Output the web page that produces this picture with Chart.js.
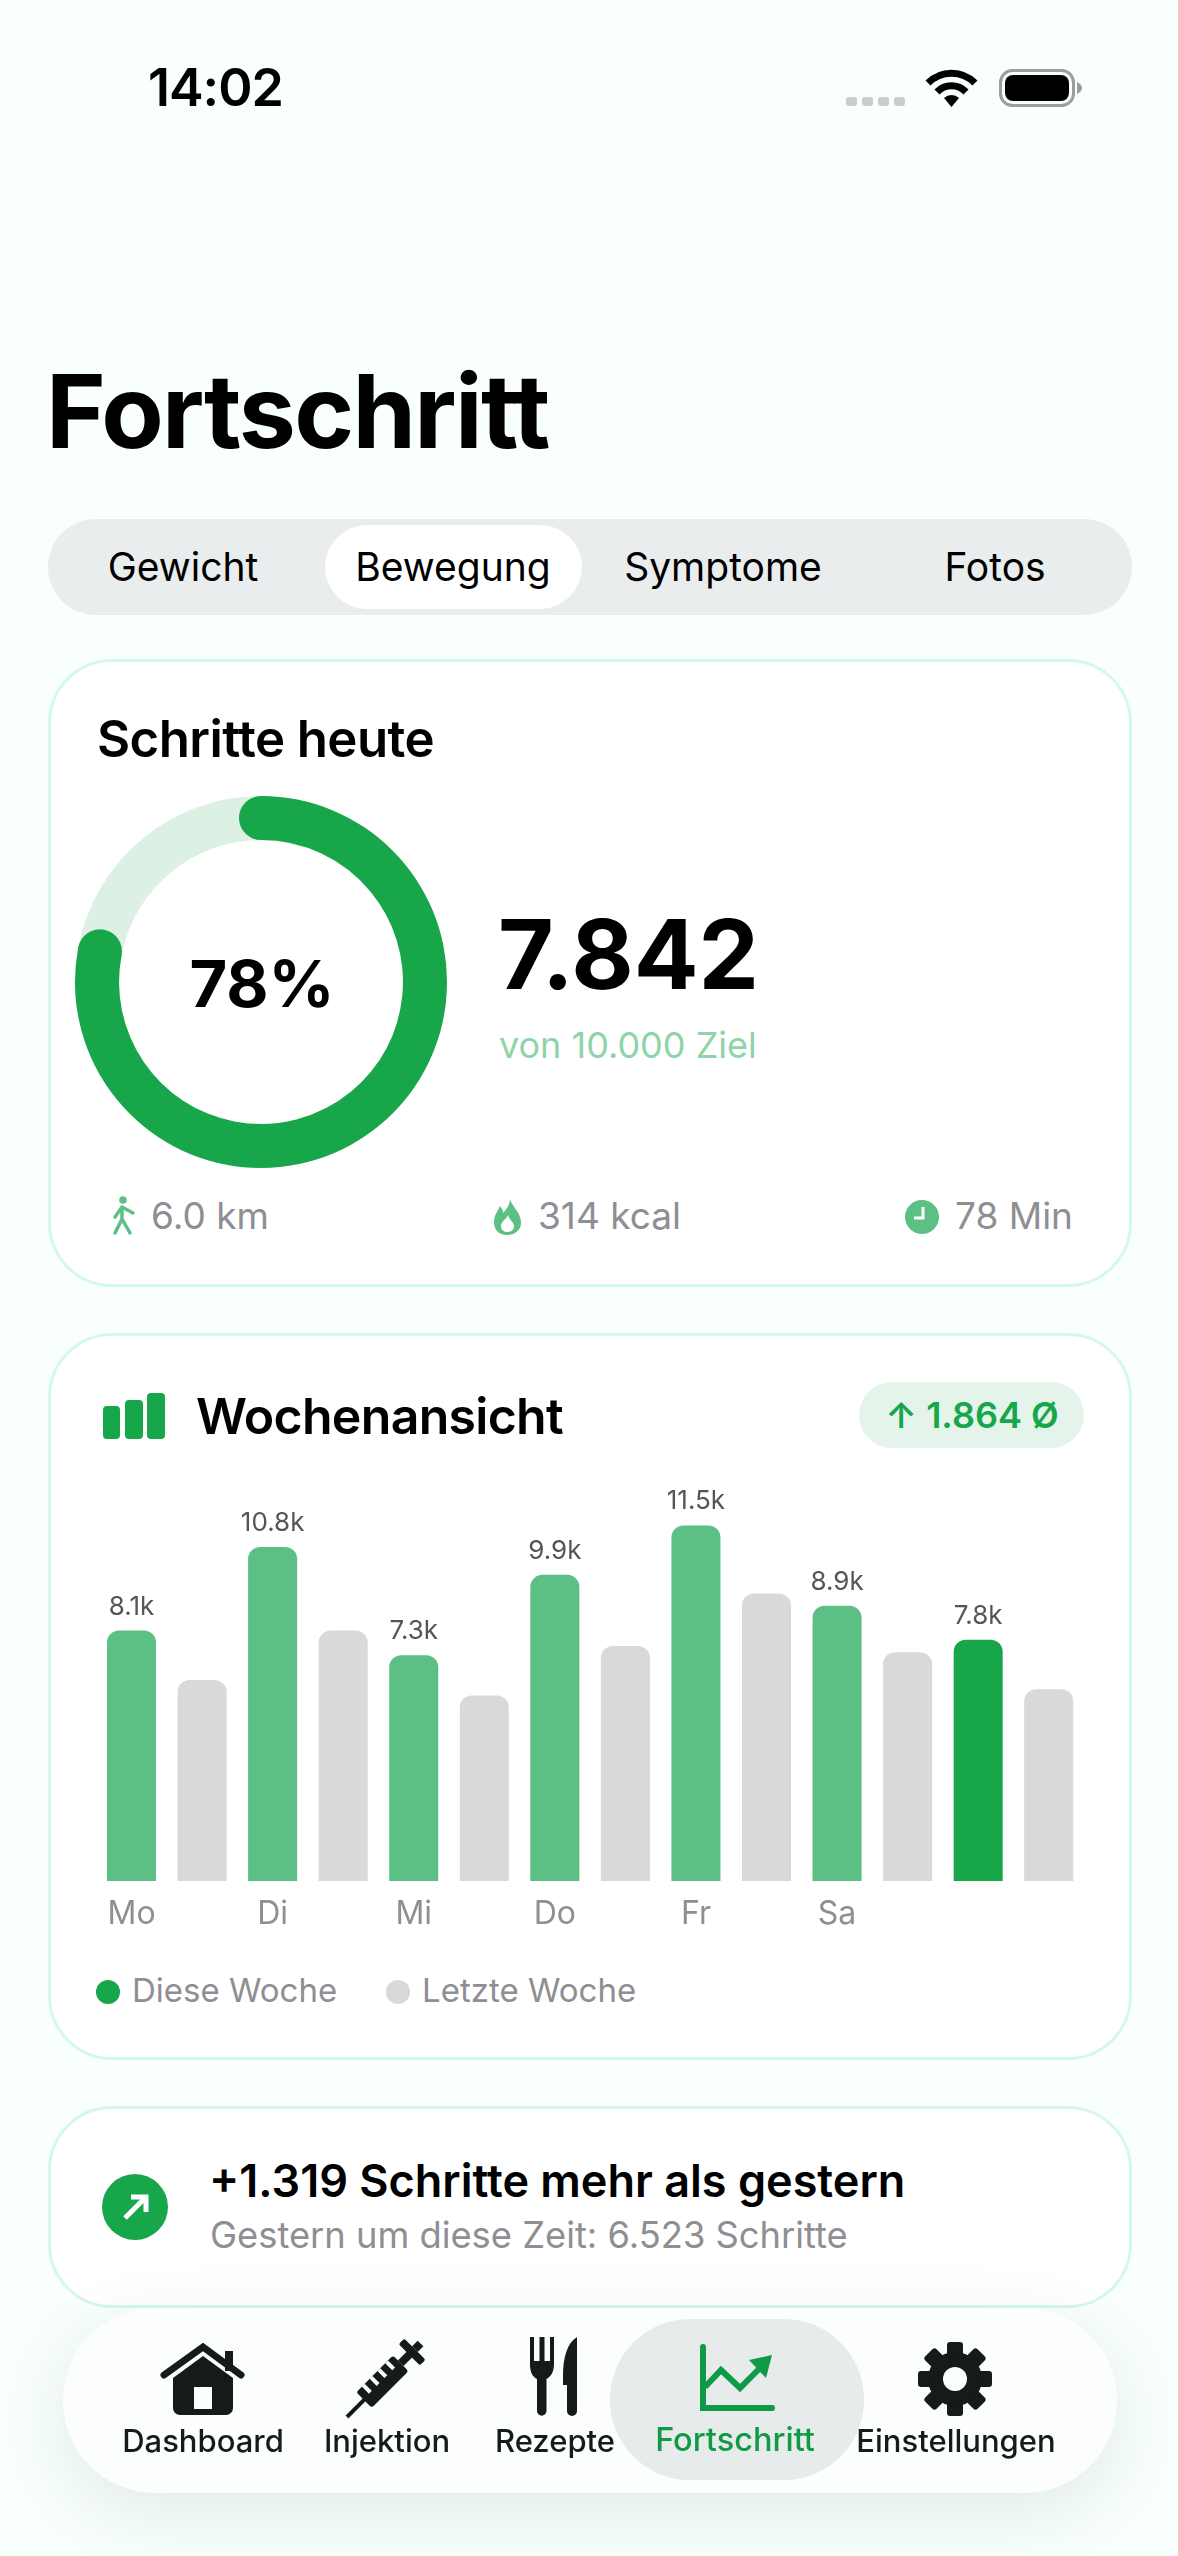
<!DOCTYPE html>
<html lang="de">
<head>
<meta charset="utf-8">
<title>Fortschritt</title>
<script src="https://cdn.jsdelivr.net/npm/chart.js@4/dist/chart.umd.min.js"></script>
<style>
html, body { margin: 0; padding: 0; }
body { position: relative; width: 1178px; height: 2556px; overflow: hidden; background: #f8fffd; font-family: Inter, sans-serif; color: #000; }
.t { position: absolute; white-space: nowrap; line-height: 1; }
.c { transform: translateX(-50%); }
.box { position: absolute; box-sizing: border-box; }
.card { left: 48px; width: 1084px; background: #fff; border: 3.5px solid #d5f9e7; border-radius: 64px; }
.grey { color: #8e8e93; }
canvas { position: absolute; display: block; }
#icons { position: absolute; left: 0; top: 0; z-index: 5; }
#nav { left: 63px; top: 2308px; width: 1054px; height: 185px; background: #fcfefe; border-radius: 92px; box-shadow: 0 20px 70px rgba(40, 60, 60, .10); z-index: 3; }
#navActive { left: 610px; top: 2319px; width: 254px; height: 161px; background: #e7ebeb; border-radius: 80px; z-index: 4; }
.nav { z-index: 6; font-size: 31px; font-weight: 500; color: #151b1b; top: 2425px; }
.seg { top: 547px; font-size: 39px; font-weight: 400; }
.stat { top: 1197px; font-size: 37px; }
</style>
</head>
<body>

<div class="t" style="left:148px;top:62px;font-size:52px;font-weight:600;letter-spacing:-1px">14:02</div>
<div class="t" style="left:46px;top:360px;font-size:102px;font-weight:700;letter-spacing:-1.7px">Fortschritt</div>

<div class="box" style="left:48px;top:519px;width:1084px;height:96px;background:#e9eded;border-radius:48px"></div>
<div class="box" style="left:325px;top:525px;width:257px;height:84px;background:#fff;border-radius:42px"></div>
<div class="t c seg" style="left:183px">Gewicht</div>
<div class="t c seg" style="left:453px">Bewegung</div>
<div class="t c seg" style="left:723px">Symptome</div>
<div class="t c seg" style="left:995px">Fotos</div>

<div class="box card" style="top:659px;height:628px"></div>
<div class="t" style="left:97px;top:713px;font-size:51px;font-weight:600;letter-spacing:-.6px">Schritte heute</div>
<canvas id="ringChart" width="380" height="380" style="left:71px;top:792px"></canvas>
<div class="t c" style="left:262px;top:951px;font-size:65px;font-weight:700">78%</div>
<div class="t" style="left:498px;top:906px;font-size:96px;font-weight:700">7.842</div>
<div class="t" style="left:499px;top:1027px;font-size:36px;color:#8ed4a8">von 10.000 Ziel</div>
<div class="t grey stat" style="left:151px">6.0 km</div>
<div class="t grey stat" style="left:538px">314 kcal</div>
<div class="t grey stat" style="left:955px">78 Min</div>

<div class="box card" style="top:1333px;height:727px"></div>
<div class="t" style="left:196px;top:1391px;font-size:50px;font-weight:600;letter-spacing:-.7px">Wochenansicht</div>
<div class="box" style="left:859px;top:1382px;width:225px;height:66px;background:#e4f4ea;border-radius:33px"></div>
<div class="t c" style="left:972px;top:1397px;font-size:36px;font-weight:600;color:#18a64a">↑ 1.864 Ø</div>
<canvas id="weekChart" width="1082" height="471" style="left:49px;top:1470px"></canvas>
<div class="box" style="left:96px;top:1980px;width:24px;height:24px;border-radius:50%;background:#18a64a"></div>
<div class="t grey" style="left:132px;top:1974px;font-size:33px">Diese Woche</div>
<div class="box" style="left:386px;top:1980px;width:24px;height:24px;border-radius:50%;background:#d9d9d9"></div>
<div class="t grey" style="left:422px;top:1974px;font-size:33px">Letzte Woche</div>

<div class="box card" style="top:2106px;height:202px"></div>
<div class="t" style="left:209px;top:2158px;font-size:45px;font-weight:600">+1.319 Schritte mehr als gestern</div>
<div class="t grey" style="left:210px;top:2217px;font-size:36.3px">Gestern um diese Zeit: 6.523 Schritte</div>

<div class="box" id="nav"></div>
<div class="box" id="navActive"></div>
<div class="t c nav" style="left:203px">Dashboard</div>
<div class="t c nav" style="left:387px">Injektion</div>
<div class="t c nav" style="left:555px">Rezepte</div>
<div class="t c nav" style="left:735px;top:2424px;font-size:32.5px;color:#0f9a45">Fortschritt</div>
<div class="t c nav" style="left:956px">Einstellungen</div>

<svg id="icons" width="1178" height="2556" viewBox="0 0 1178 2556" fill="none">
  <!-- status bar -->
  <g fill="#c9cdcd">
    <rect x="846" y="97" width="11" height="9" rx="3"/><rect x="862" y="97" width="11" height="9" rx="3"/>
    <rect x="878" y="97" width="11" height="9" rx="3"/><rect x="894" y="97" width="11" height="9" rx="3"/>
  </g>
  <g stroke="#000" stroke-width="7">
    <path d="M928 83A33 33 0 0 1 975 83"/>
    <path d="M937 92A20 20 0 0 1 966 92"/>
  </g>
  <path d="M951.5 107L944 98A11 11 0 0 1 959 98Z" fill="#000"/>
  <rect x="1000.5" y="70.5" width="73" height="35" rx="12" stroke="#9a9e9e" stroke-width="3"/>
  <rect x="1005" y="75" width="64" height="26" rx="8" fill="#000"/>
  <path d="M1077 82C1081 84 1082 86 1082 88C1082 90 1081 92 1077 94Z" fill="#9a9e9e"/>

  <!-- stat icons -->
  <circle cx="123" cy="1200" r="3.8" fill="#5cbf83"/>
  <path d="M115 1217L122 1207L133 1213M122 1207L122 1219L115 1233M122 1219L130 1233" stroke="#5cbf83" stroke-width="3.5" stroke-linecap="round" stroke-linejoin="round"/>
  <path d="M510 1199C512 1207 521 1212 521 1223C521 1230 515 1235 507 1235C499 1235 494 1230 494 1222C494 1215 498 1211 500 1206C502 1208 503 1211 503 1213C506 1210 510 1205 510 1199Z" fill="#5cbf83"/>
  <path d="M508 1215C509 1220 514 1222 514 1226C514 1230 511 1232 507.5 1232C504 1232 501 1230 501 1226C501 1221 506 1220 508 1215Z" fill="#fff"/>
  <circle cx="922" cy="1217" r="17" fill="#5cbf83"/>
  <path d="M923 1207V1218H914" stroke="#fff" stroke-width="3"/>

  <!-- week icon -->
  <g fill="#18a64a">
    <rect x="103" y="1406" width="17" height="33" rx="4"/>
    <rect x="125" y="1400" width="18" height="39" rx="4"/>
    <rect x="147" y="1393" width="18" height="46" rx="4"/>
  </g>

  <!-- compare icon -->
  <circle cx="135" cy="2207" r="33" fill="#18a64a"/>
  <path d="M125 2218L145 2198M131 2197H146V2212" stroke="#fff" stroke-width="5"/>

  <!-- nav icons -->
  <g fill="#151b1b" stroke="none">
    <path d="M164 2375L203 2347L241 2375" stroke="#151b1b" stroke-width="7" stroke-linecap="round" fill="none"/>
    <path d="M173 2378L203 2356L233 2378V2408A7 7 0 0 1 226 2415H180A7 7 0 0 1 173 2408Z"/>
    <rect x="194" y="2387" width="18" height="22" fill="#fcfefe"/>
    <rect x="225" y="2351" width="8" height="20"/>

    <g transform="translate(347 2417) rotate(-45)">
      <rect x="0" y="-2" width="28" height="4"/>
      <rect x="24" y="-11" width="52" height="22" rx="3"/>
      <rect x="76" y="-4" width="18" height="8"/>
      <rect x="88" y="-15" width="8" height="30" rx="2"/>
      <rect x="96" y="-4" width="8" height="8"/>
      <g fill="#fcfefe">
        <rect x="32" y="-11" width="4" height="10"/><rect x="43" y="-11" width="4" height="10"/><rect x="54" y="-11" width="4" height="10"/><rect x="65" y="-11" width="4" height="10"/>
      </g>
    </g>

    <path d="M530 2337H534V2361H539.5V2337H544.5V2361H550V2337H554V2364C554 2373 550 2377 546.5 2379V2411A4.5 4.5 0 0 1 537 2411V2379C533 2377 530 2373 530 2364Z"/>
    <path d="M577 2337C567 2343 563 2358 563 2376V2385H567V2411A5 5 0 0 0 577 2411Z"/>

    <g transform="translate(955 2379)">
      <rect x="-8" y="-37" width="16" height="74" rx="3"/>
      <rect x="-8" y="-37" width="16" height="74" rx="3" transform="rotate(45)"/>
      <rect x="-8" y="-37" width="16" height="74" rx="3" transform="rotate(90)"/>
      <rect x="-8" y="-37" width="16" height="74" rx="3" transform="rotate(135)"/>
      <circle r="27"/>
      <circle r="12" fill="#fcfefe"/>
    </g>
  </g>
  <path d="M703 2347V2408H772" stroke="#0f9a45" stroke-width="6" stroke-linecap="round"/>
  <path d="M705 2387L721 2370L740 2388L760 2368" stroke="#0f9a45" stroke-width="6"/>
  <path d="M772 2355L749 2360L766 2378Z" fill="#0f9a45"/>
</svg>

<script>
// Ring: share of the daily step goal
const ringValues = [78, 22];

// Week bars
const dayLabels = ['Mo', 'Di', 'Mi', 'Do', 'Fr', 'Sa', ''];
const thisWeek = [8100, 10800, 7300, 9900, 11500, 8900, 7800];
const lastWeek = [6500, 8100, 6000, 7600, 9300, 7400, 6200];

const green = '#18a64a';
const lightGreen = '#5cbf83';
const barGrey = '#d9d9d9';

// Round ends for the first ring slice
const roundCaps = {
    id: 'roundCaps',
    afterDatasetDraw(chart) {
        const arc = chart.getDatasetMeta(0).data[0];
        const { x, y, startAngle, endAngle, innerRadius, outerRadius } = arc.getProps(['x', 'y', 'startAngle', 'endAngle', 'innerRadius', 'outerRadius'], true);
        const mid = (innerRadius + outerRadius) / 2;
        const ctx = chart.ctx;
        ctx.save();
        ctx.fillStyle = green;
        [startAngle, endAngle].forEach(a => {
            ctx.beginPath();
            ctx.arc(x + Math.cos(a) * mid, y + Math.sin(a) * mid, (outerRadius - innerRadius) / 2, 0, Math.PI * 2);
            ctx.fill();
        });
        ctx.restore();
    }
};

new Chart(document.getElementById('ringChart'), {
    type: 'doughnut',
    data: {
        datasets: [{
            data: ringValues,
            backgroundColor: [green, '#ddf0e4'],
            borderWidth: 0
        }]
    },
    options: {
        responsive: false,
        animation: false,
        radius: 186,
        cutout: 145,
        plugins: { legend: { display: false }, tooltip: { enabled: false } }
    },
    plugins: [roundCaps]
});

// Value labels above this week's bars
const barValues = {
    id: 'barValues',
    afterDatasetsDraw(chart) {
        const ctx = chart.ctx;
        ctx.save();
        ctx.font = '26px Inter, sans-serif';
        ctx.fillStyle = '#555';
        ctx.textAlign = 'center';
        ctx.textBaseline = 'alphabetic';
        chart.getDatasetMeta(0).data.forEach((bar, i) => {
            ctx.fillText((thisWeek[i] / 1000).toFixed(1) + 'k', bar.x, bar.y - 16);
        });
        ctx.restore();
    }
};

new Chart(document.getElementById('weekChart'), {
    type: 'bar',
    data: {
        labels: dayLabels,
        datasets: [{
            label: 'Diese Woche',
            data: thisWeek,
            backgroundColor: thisWeek.map((v, i) => i === thisWeek.length - 1 ? green : lightGreen),
            borderRadius: { topLeft: 12, topRight: 12 },
            borderSkipped: 'bottom',
            categoryPercentage: 1,
            barPercentage: 0.695
        }, {
            label: 'Letzte Woche',
            data: lastWeek,
            backgroundColor: barGrey,
            borderRadius: { topLeft: 12, topRight: 12 },
            borderSkipped: 'bottom',
            categoryPercentage: 1,
            barPercentage: 0.695
        }]
    },
    options: {
        responsive: false,
        animation: false,
        layout: { padding: { top: 9, left: 47.25, right: 47 } },
        scales: {
            x: {
                grid: { display: false },
                border: { display: false },
                afterFit(scale) { scale.height = 60; },
                ticks: {
                    color: '#8e8e93',
                    font: { family: 'Inter, sans-serif', size: 32 },
                    padding: 6,
                    labelOffset: -35.25,
                    autoSkip: false,
                    maxRotation: 0
                }
            },
            y: {
                display: false,
                min: 0,
                max: 13000
            }
        },
        plugins: { legend: { display: false }, tooltip: { enabled: false } }
    },
    plugins: [barValues]
});
</script>
</body>
</html>
